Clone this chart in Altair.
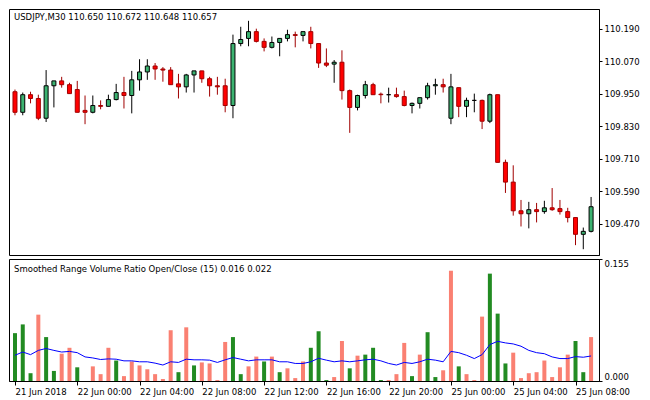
import altair as alt
import pandas as pd

header = "USDJPY,M30  110.650 110.672 110.648 110.657"
sub_title = "Smoothed Range Volume Ratio Open/Close (15) 0.016 0.022"
tick_labels = ["21 Jun 2018", "22 Jun 00:00", "22 Jun 04:00", "22 Jun 08:00", "22 Jun 12:00",
               "22 Jun 16:00", "22 Jun 20:00", "25 Jun 00:00", "25 Jun 04:00", "25 Jun 08:00"]
price_ticks = [109.470, 109.590, 109.710, 109.830, 109.950, 110.070, 110.190]
ratio_ticks = [0.0, 0.155]

opens = [109.957, 109.881, 109.946, 109.932, 109.859, 109.979, 109.997, 109.983, 109.965, 109.888,
         109.881, 109.906, 109.903, 109.928, 109.954, 109.943, 110.001, 110.030, 110.052, 110.041,
         110.037, 109.986, 109.975, 110.019, 110.034, 110.005, 109.979, 109.979, 109.906, 110.135,
         110.154, 110.179, 110.143, 110.121, 110.139, 110.154, 110.168, 110.165, 110.179, 110.135,
         110.063, 110.059, 110.066, 109.961, 109.899, 109.943, 109.983, 109.948, 109.946, 109.946,
         109.939, 109.906, 109.914, 109.935, 109.979, 109.983, 109.859, 109.972, 109.903, 109.925,
         109.925, 109.848, 109.946, 109.696, 109.623, 109.517, 109.506, 109.521, 109.514, 109.528,
         109.525, 109.514, 109.492, 109.430, 109.441]
closes = [109.881, 109.946, 109.932, 109.859, 109.979, 109.997, 109.983, 109.950, 109.881, 109.881,
          109.906, 109.903, 109.928, 109.954, 109.943, 110.001, 110.030, 110.052, 110.041, 110.037,
          109.983, 109.975, 110.019, 110.034, 110.005, 109.979, 109.975, 109.906, 110.135, 110.150,
          110.179, 110.143, 110.121, 110.139, 110.154, 110.168, 110.165, 110.179, 110.135, 110.063,
          110.055, 110.066, 109.961, 109.899, 109.943, 109.983, 109.946, 109.946, 109.946, 109.939,
          109.906, 109.914, 109.935, 109.979, 109.983, 109.975, 109.975, 109.903, 109.925, 109.925,
          109.848, 109.946, 109.696, 109.623, 109.517, 109.506, 109.521, 109.514, 109.528, 109.521,
          109.514, 109.492, 109.430, 109.441, 109.532]
highs = [109.965, 109.954, 109.957, 109.946, 110.037, 109.997, 110.012, 109.990, 109.997, 109.943,
         109.943, 109.925, 109.946, 109.986, 110.012, 110.034, 110.077, 110.077, 110.063, 110.048,
         110.048, 110.023, 110.023, 110.034, 110.034, 110.012, 110.012, 110.005, 110.168, 110.197,
         110.219, 110.190, 110.154, 110.161, 110.154, 110.186, 110.179, 110.179, 110.197, 110.135,
         110.117, 110.074, 110.110, 109.965, 109.946, 109.997, 109.990, 109.954, 109.972, 109.972,
         109.961, 109.917, 109.935, 109.990, 110.005, 110.005, 110.023, 109.972, 109.935, 109.950,
         109.928, 109.950, 109.946, 109.706, 109.685, 109.557, 109.550, 109.546, 109.554, 109.601,
         109.557, 109.528, 109.492, 109.455, 109.568]
lows = [109.870, 109.870, 109.914, 109.852, 109.845, 109.899, 109.972, 109.950, 109.881, 109.837,
        109.877, 109.892, 109.903, 109.925, 109.895, 109.877, 109.961, 110.001, 110.001, 109.994,
        109.983, 109.932, 109.954, 109.954, 109.990, 109.939, 109.946, 109.881, 109.859, 110.125,
        110.125, 110.139, 110.106, 110.117, 110.088, 110.143, 110.121, 110.143, 110.117, 110.045,
        110.048, 109.990, 109.928, 109.805, 109.888, 109.932, 109.946, 109.914, 109.917, 109.935,
        109.903, 109.877, 109.895, 109.928, 109.946, 109.954, 109.837, 109.863, 109.863, 109.881,
        109.819, 109.841, 109.696, 109.583, 109.499, 109.459, 109.452, 109.474, 109.506, 109.517,
        109.503, 109.474, 109.390, 109.375, 109.437]

ratio = [0.0608, 0.0719, 0.0099, 0.0843, 0.0558, 0.0128, 0.0347, 0.0422, 0.0174, 0.0,
         0.0186, 0.0087, 0.0422, 0.0260, 0.0062, 0.0248, 0.0198, 0.0149, 0.0087, 0.0025,
         0.0645, 0.0112, 0.0682, 0.0198, 0.0236, 0.0223, 0.0012, 0.0496, 0.0558, 0.0087,
         0.0186, 0.0310, 0.0248, 0.0310, 0.0112, 0.0161, 0.0037, 0.0248, 0.0422, 0.0632,
         0.0012, 0.0050, 0.0508, 0.0161, 0.0322, 0.0335, 0.0422, 0.0012, 0.0012, 0.0087,
         0.0484, 0.0062, 0.0335, 0.0620, 0.0050, 0.0136, 0.1401, 0.0186, 0.0087, 0.0012,
         0.0818, 0.1364, 0.0856, 0.0223, 0.0360, 0.0037, 0.0099, 0.0112, 0.0260, 0.0050,
         0.0174, 0.0335, 0.0508, 0.0112, 0.0558]
ratio_kind = list("gggsggssgs"
                  "sssgssssss"
                  "sgsgssssgg"
                  "ssgsgsssgg"
                  "gssgsgggss"
                  "sgsggssgss"
                  "sggg" "ssssss"
                  "ssggs")
smooth = [0.0327, 0.0368, 0.0335, 0.0389, 0.0413, 0.0389, 0.0368, 0.0376, 0.0360, 0.0306,
          0.0293, 0.0273, 0.0281, 0.0277, 0.0256, 0.0256, 0.0244, 0.0244, 0.0227, 0.0203,
          0.0244, 0.0236, 0.0277, 0.0269, 0.0269, 0.0265, 0.0236, 0.0269, 0.0298, 0.0277,
          0.0256, 0.0269, 0.0269, 0.0269, 0.0244, 0.0244, 0.0223, 0.0223, 0.0244, 0.0289,
          0.0265, 0.0244, 0.0256, 0.0244, 0.0256, 0.0269, 0.0277, 0.0256, 0.0223, 0.0203,
          0.0236, 0.0223, 0.0244, 0.0277, 0.0265, 0.0244, 0.0376, 0.0360, 0.0327, 0.0285,
          0.0335, 0.0463, 0.0504, 0.0484, 0.0471, 0.0442, 0.0389, 0.0360, 0.0347, 0.0306,
          0.0285, 0.0285, 0.0310, 0.0302, 0.0318]

n = len(opens)
df = pd.DataFrame({
    "i": list(range(n)),
    "open": opens, "high": highs, "low": lows, "close": closes,
    "ratio": ratio, "kind": ratio_kind, "smooth": smooth,
})
df["dir"] = ["up" if c > o else ("down" if c < o else "flat") for o, c in zip(opens, closes)]

FONT = "DejaVu Sans"
W, H1, H2 = 590, 246, 122
dirs = ["up", "down", "flat"]
fill_range = ["#3CB371", "#FF0000", "#000000"]
line_range = ["#000000", "#A00000", "#000000"]

xscale = alt.Scale(domain=[-0.125, 74.375], nice=False, zero=False)
yscale = alt.Scale(domain=[109.3536, 110.2627], nice=False, zero=False)

price_axis = alt.Axis(orient="right", values=price_ticks, format=".3f", title=None,
                      tickSize=3, labelPadding=2, grid=False)

base = alt.Chart(df)
wicks = base.mark_rule(strokeWidth=1, clip=True).encode(
    x=alt.X("i:Q", scale=xscale, axis=None),
    y=alt.Y("low:Q", scale=yscale, axis=price_axis),
    y2="high:Q",
    color=alt.Color("dir:N", scale=alt.Scale(domain=dirs, range=line_range), legend=None),
)
bodies = base.mark_bar(size=4, strokeWidth=1, clip=True).encode(
    x=alt.X("i:Q", scale=xscale, axis=None),
    y=alt.Y("open:Q", scale=yscale),
    y2="close:Q",
    fill=alt.Fill("dir:N", scale=alt.Scale(domain=dirs, range=fill_range), legend=None),
    stroke=alt.Stroke("dir:N", scale=alt.Scale(domain=dirs, range=line_range), legend=None),
)
head = alt.Chart(pd.DataFrame({"t": [header]})).mark_text(
    align="left", baseline="middle", font=FONT, fontSize=8.5, color="black"
).encode(text="t:N", x=alt.value(5), y=alt.value(8))

upper = alt.layer(wicks, bodies, head).properties(width=W, height=H1)

label_expr = "[" + ",".join("'" + t + "'" for t in tick_labels) + "][round(datum.value / 8)]"
time_axis = alt.Axis(values=[8 * k for k in range(len(tick_labels))], labelExpr=label_expr,
                     title=None, labelAlign="left", labelPadding=2, tickSize=4,
                     labelOverlap=False, labelBound=False, labelFlush=False, grid=False)

bars = base.mark_bar(size=4, clip=True).encode(
    x=alt.X("i:Q", scale=xscale, axis=time_axis),
    y=alt.Y("ratio:Q", scale=alt.Scale(domain=[0, 0.155], nice=False),
            axis=alt.Axis(orient="right", values=ratio_ticks, format=".3f", title=None,
                          tickSize=3, labelPadding=2, labelFlush=True, grid=False)),
    color=alt.Color("kind:N", scale=alt.Scale(domain=["g", "s"], range=["#228B22", "#FA8072"]),
                    legend=None),
)
sline = base.mark_line(color="#0000FF", strokeWidth=1, clip=True).encode(
    x=alt.X("i:Q", scale=xscale),
    y=alt.Y("smooth:Q"),
)
sub = alt.Chart(pd.DataFrame({"t": [sub_title]})).mark_text(
    align="left", baseline="middle", font=FONT, fontSize=8.5, color="black"
).encode(text="t:N", x=alt.value(5), y=alt.value(10))

lower = alt.layer(bars, sline, sub).properties(width=W, height=H2)

chart = alt.vconcat(upper, lower, spacing=2).resolve_scale(
    color="independent", fill="independent", stroke="independent"
).properties(
    padding={"left": 0, "top": 0, "right": 2, "bottom": 2},
    background="white",
).configure_view(
    stroke="black", strokeWidth=1
).configure_axis(
    domainColor="black", tickColor="black", labelColor="black",
    labelFont=FONT, labelFontSize=8.5, domainWidth=1, tickWidth=1,
)

chart.save("out.html", embed_options={"renderer": "svg", "actions": False})
